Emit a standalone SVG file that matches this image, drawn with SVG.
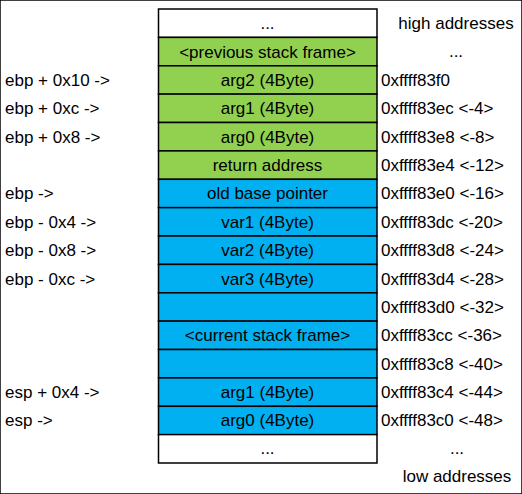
<svg xmlns="http://www.w3.org/2000/svg" width="522" height="494" viewBox="0 0 522 494">
<style>
text{font-family:"Liberation Sans",Arial,sans-serif;font-size:17px;fill:#000}
.c{text-anchor:middle}
.w{fill:#fff}
.g{fill:#92D050}
.b{fill:#00B0F0}
rect{stroke:#000;stroke-width:1.5}
</style>
<rect x="0" y="0" width="522" height="494" fill="#fff" stroke="none"/>
<g id="stack">
<g id="n0"><rect class="w" x="158.5" y="9" width="218.5" height="28.4"/><text class="c" x="267.5" y="28.7">...</text></g>
<g id="n1"><rect class="g" x="158.5" y="37.4" width="218.5" height="28.4"/><text class="c" x="267.5" y="57.5">&lt;previous stack frame&gt;</text></g>
<g id="n2"><rect class="g" x="158.5" y="65.8" width="218.5" height="28.4"/><text class="c" x="267.5" y="85.9">arg2 (4Byte)</text></g>
<g id="n3"><rect class="g" x="158.5" y="94.1" width="218.5" height="28.4"/><text class="c" x="267.5" y="114.3">arg1 (4Byte)</text></g>
<g id="n4"><rect class="g" x="158.5" y="122.5" width="218.5" height="28.4"/><text class="c" x="267.5" y="142.7">arg0 (4Byte)</text></g>
<g id="n5"><rect class="g" x="158.5" y="150.9" width="218.5" height="28.4"/><text class="c" x="267.5" y="171">return address</text></g>
<g id="n6"><rect class="b" x="158.5" y="179.3" width="218.5" height="28.4"/><text class="c" x="267.5" y="199.4">old base pointer</text></g>
<g id="n7"><rect class="b" x="158.5" y="207.6" width="218.5" height="28.4"/><text class="c" x="267.5" y="227.8">var1 (4Byte)</text></g>
<g id="n8"><rect class="b" x="158.5" y="236" width="218.5" height="28.4"/><text class="c" x="267.5" y="256.2">var2 (4Byte)</text></g>
<g id="n9"><rect class="b" x="158.5" y="264.4" width="218.5" height="28.4"/><text class="c" x="267.5" y="284.5">var3 (4Byte)</text></g>
<g id="n10"><rect class="b" x="158.5" y="292.8" width="218.5" height="28.4"/></g>
<g id="n11"><rect class="b" x="158.5" y="321.1" width="218.5" height="28.4"/><text class="c" x="267.5" y="341.3">&lt;current stack frame&gt;</text></g>
<g id="n12"><rect class="b" x="158.5" y="349.5" width="218.5" height="28.4"/></g>
<g id="n13"><rect class="b" x="158.5" y="377.9" width="218.5" height="28.4"/><text class="c" x="267.5" y="398">arg1 (4Byte)</text></g>
<g id="n14"><rect class="b" x="158.5" y="406.3" width="218.5" height="28.4"/><text class="c" x="267.5" y="426.4">arg0 (4Byte)</text></g>
<g id="n15"><rect class="w" x="158.5" y="434.6" width="218.5" height="28.4"/><text class="c" x="267.5" y="454.2">...</text></g>
</g>
<g id="left-labels">
<text x="5" y="85.9">ebp + 0x10 -&gt;</text>
<text x="5" y="114.3">ebp + 0xc -&gt;</text>
<text x="5" y="142.7">ebp + 0x8 -&gt;</text>
<text x="5" y="199.4">ebp -&gt;</text>
<text x="5" y="227.8">ebp - 0x4 -&gt;</text>
<text x="5" y="256.2">ebp - 0x8 -&gt;</text>
<text x="5" y="284.5">ebp - 0xc -&gt;</text>
<text x="5" y="398">esp + 0x4 -&gt;</text>
<text x="5" y="426.4">esp -&gt;</text>
</g>
<g id="right-labels">
<text class="c" x="456" y="28.7">high addresses</text>
<text class="c" x="456" y="57">...</text>
<text x="381" y="85.9">0xffff83f0</text>
<text x="381" y="114.3">0xffff83ec &lt;-4&gt;</text>
<text x="381" y="142.7">0xffff83e8 &lt;-8&gt;</text>
<text x="381" y="171">0xffff83e4 &lt;-12&gt;</text>
<text x="381" y="199.4">0xffff83e0 &lt;-16&gt;</text>
<text x="381" y="227.8">0xffff83dc &lt;-20&gt;</text>
<text x="381" y="256.2">0xffff83d8 &lt;-24&gt;</text>
<text x="381" y="284.5">0xffff83d4 &lt;-28&gt;</text>
<text x="381" y="312.9">0xffff83d0 &lt;-32&gt;</text>
<text x="381" y="341.3">0xffff83cc &lt;-36&gt;</text>
<text x="381" y="369.6">0xffff83c8 &lt;-40&gt;</text>
<text x="381" y="398">0xffff83c4 &lt;-44&gt;</text>
<text x="381" y="426.4">0xffff83c0 &lt;-48&gt;</text>
<text class="c" x="457" y="454.2">...</text>
<text class="c" x="457" y="482">low addresses</text>
</g>
</svg>
